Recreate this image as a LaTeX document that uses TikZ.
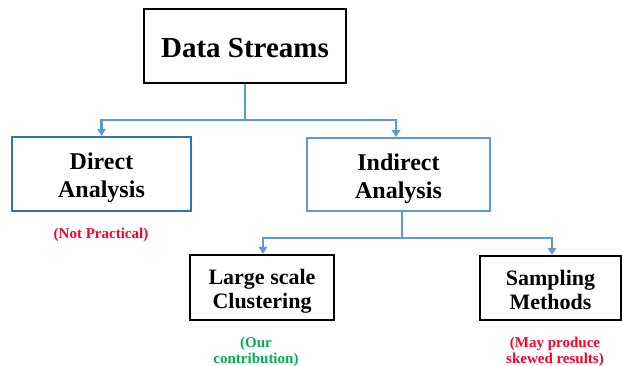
\documentclass[tikz,border=0pt]{standalone}
\usepackage{fontspec}
\setmainfont{Liberation Serif}
\usetikzlibrary{arrows.meta,calc}
\definecolor{linkblue}{HTML}{5B9BD5}
\definecolor{boxblue}{HTML}{2E75B6}
\definecolor{notered}{HTML}{FF0026}
\definecolor{notegreen}{HTML}{00B050}
\tikzset{
  x=1pt, y=-1pt,
  box/.style={draw, rectangle, inner sep=0pt},
  boxtext/.style={align=center, inner sep=0pt},
  link/.style={draw=linkblue, line width=2.2pt},
  arr/.style={link, -{Triangle[width=8.5pt,length=7pt]}},
  note/.style={align=center, font=\fontsize{15}{16}\selectfont\bfseries}
}
\begin{document}
\begin{tikzpicture}
\useasboundingbox (0,0) rectangle (622,366);
% top level
\node[box, line width=2.8pt, minimum width=202pt, minimum height=74pt] (ds) at (245,46) {};
\node[boxtext, font=\fontsize{29}{32}\selectfont\bfseries] (dstext)
  at ($(ds.center)+(0,2.5)$) {Data Streams};
% second level
\node[box, draw=boxblue, line width=2.4pt, minimum width=179pt, minimum height=74pt] (direct) at (101.5,174) {};
\node[boxtext, font=\fontsize{24}{28}\selectfont\bfseries] (directtext)
  at ($(direct.center)+(0,4)$) {Direct\\Analysis};
\node[box, draw=linkblue, line width=2pt, minimum width=183pt, minimum height=73pt] (indirect) at (398.5,174.5) {};
\node[boxtext, font=\fontsize{24}{28}\selectfont\bfseries] (indirecttext)
  at ($(indirect.center)+(0,4)$) {Indirect\\Analysis};
\node[note, text=notered] (np) at (101,235) {(Not Practical)};
% third level
\node[box, line width=2.4pt, minimum width=144pt, minimum height=65pt] (lsc) at (262,287.5) {};
\node[boxtext, font=\fontsize{22}{24}\selectfont\bfseries] (lsctext)
  at ($(lsc.center)+(0,3.5)$) {Large scale\\Clustering};
\node[box, line width=2.4pt, minimum width=141pt, minimum height=64pt] (sm) at (550.5,288) {};
\node[boxtext, font=\fontsize{22}{24}\selectfont\bfseries] (smtext)
  at ($(sm.center)+(0,1.5)$) {Sampling\\Methods};
\node[note, text=notegreen] (oc) at (256,352) {(Our\\contribution)};
\node[note, text=notered] (mp) at (555,352) {(May produce\\skewed results)};
% connectors
\coordinate (j1) at ($(ds.south)+(0,36)$);
\draw[link] (ds.south) -- (j1);
\draw[arr] (j1) -| (direct.north);
\draw[arr] (j1) -| ([xshift=-2.5pt]indirect.north);
\coordinate (j2) at ($(indirect.south)+(3.5,26)$);
\draw[link] ([xshift=3.5pt]indirect.south) -- (j2);
\draw[arr] (j2) -| ([xshift=1pt]lsc.north);
\draw[arr] (j2) -| ([xshift=1.5pt]sm.north);
\end{tikzpicture}
\end{document}
